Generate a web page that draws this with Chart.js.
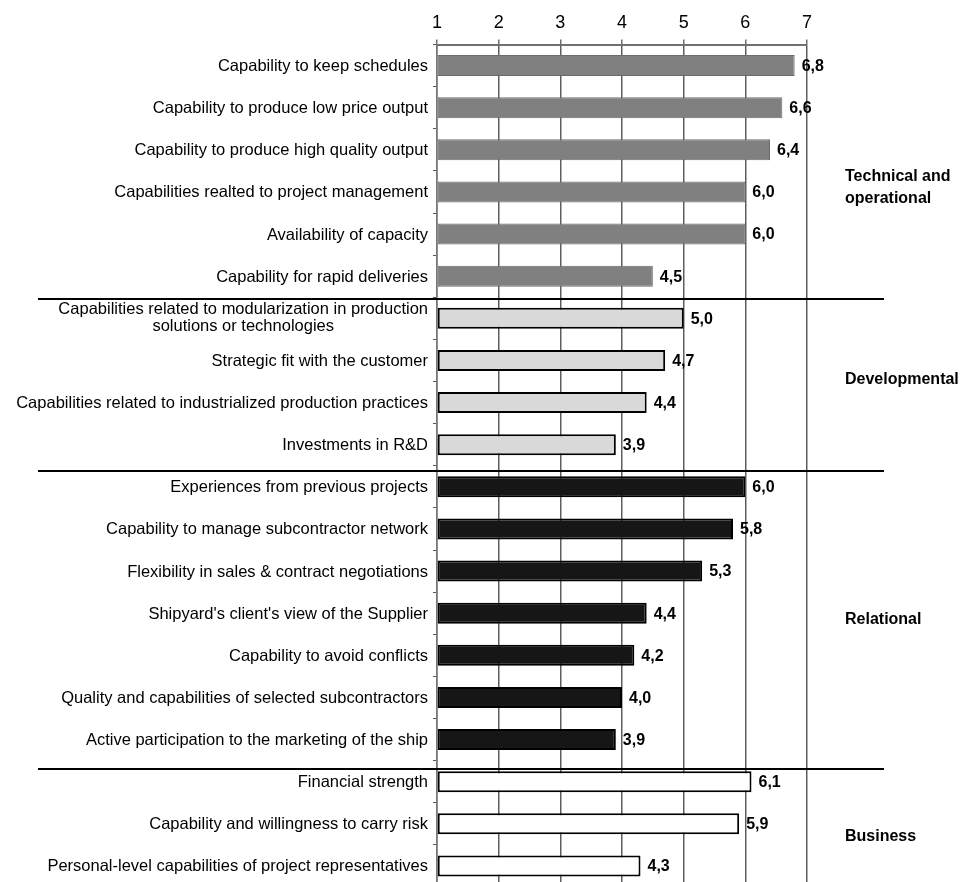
<!DOCTYPE html>
<html>
<head>
<meta charset="utf-8">
<script src="https://cdn.jsdelivr.net/npm/chart.js@4.4.1/dist/chart.umd.min.js"></script>
<style>
  html, body { margin: 0; padding: 0; background: #fff; overflow: hidden; }
  #wrap { position: relative; width: 960px; height: 887px; }
</style>
</head>
<body>
<div id="wrap"><canvas id="chart"></canvas></div>
<script>
// Supplier capability ratings (scale 1-7), grouped by capability type
const categories = [
  'Capability to keep schedules',
  'Capability to produce low price output',
  'Capability to produce high quality output',
  'Capabilities realted to project management',
  'Availability of capacity',
  'Capability for rapid deliveries',
  ['Capabilities related to modularization in production', 'solutions or technologies'],
  'Strategic fit with the customer',
  'Capabilities related to industrialized production practices',
  'Investments in R&D',
  'Experiences from previous projects',
  'Capability to manage subcontractor network',
  'Flexibility in sales & contract negotiations',
  "Shipyard's client's view of the Supplier",
  'Capability to avoid conflicts',
  'Quality and capabilities of selected subcontractors',
  'Active participation to the marketing of the ship',
  'Financial strength',
  'Capability and willingness to carry risk',
  'Personal-level capabilities of project representatives'
];
const values = [6.8, 6.6, 6.4, 6.0, 6.0, 4.5, 5.0, 4.7, 4.4, 3.9, 6.0, 5.8, 5.3, 4.4, 4.2, 4.0, 3.9, 6.1, 5.9, 4.3];
const groupOf = [0, 0, 0, 0, 0, 0, 1, 1, 1, 1, 2, 2, 2, 2, 2, 2, 2, 3, 3, 3];
const groupNames = [['Technical and', 'operational'], ['Developmental'], ['Relational'], ['Business']];
const xTicks = [1, 2, 3, 4, 5, 6, 7];

// Styling per group
const groupFill = ['#808080', '#d9d9d9', '#161616', '#ffffff'];
const groupBorder = ['#6b6b6b', '#000000', '#000000', '#000000'];
const groupBorderWidth = [1, 2, 2, 2];

// Placement of group names and dividing lines, in category-index units
const groupLabelAt = [2.9, 7.45, 13.15, 18.3];
const dividerAt = [5.54, 9.62, 16.7];

const FONT = '"Liberation Sans", Arial, sans-serif';

const decorations = {
  id: 'decorations',
  afterDatasetsDraw(chart) {
    const ctx = chart.ctx;
    const y = chart.scales.y;
    const x = chart.scales.x;
    const area = chart.chartArea;
    ctx.save();

    // category labels
    ctx.fillStyle = '#000';
    ctx.font = '16.5px ' + FONT;
    ctx.textBaseline = 'middle';
    const labelRight = area.left - 9;
    categories.forEach((lab, i) => {
      const py = y.getPixelForValue(i);
      if (Array.isArray(lab)) {
        const lh = 17;
        const w = Math.max(...lab.map(s => ctx.measureText(s).width));
        const cx = labelRight - w / 2;
        ctx.textAlign = 'center';
        lab.forEach((s, k) => {
          ctx.fillText(s, cx, py + (k - (lab.length - 1) / 2) * lh);
        });
      } else {
        ctx.textAlign = 'right';
        ctx.fillText(lab, labelRight, py + 1);
      }
    });

    // value labels at bar ends
    ctx.font = 'bold 16px ' + FONT;
    ctx.textAlign = 'left';
    const meta = chart.getDatasetMeta(0);
    meta.data.forEach((bar, i) => {
      const txt = values[i].toFixed(1).replace('.', ',');
      ctx.fillText(txt, bar.x + 7, bar.y + 1);
    });

    // group names on the right
    ctx.font = 'bold 16px ' + FONT;
    groupNames.forEach((lines, g) => {
      const py = y.getPixelForValue(groupLabelAt[g]);
      lines.forEach((s, k) => {
        ctx.fillText(s, area.right + 38, py + (k - (lines.length - 1) / 2) * 22);
      });
    });

    // dividing lines between groups
    ctx.strokeStyle = '#000';
    ctx.lineWidth = 2;
    dividerAt.forEach(v => {
      const py = Math.round(y.getPixelForValue(v)) + 0.0;
      ctx.beginPath();
      ctx.moveTo(38, py);
      ctx.lineTo(area.right + 77, py);
      ctx.stroke();
    });
    ctx.restore();
  }
};

new Chart(document.getElementById('chart'), {
  type: 'bar',
  data: {
    labels: categories.map(c => Array.isArray(c) ? c.join(' ') : c),
    datasets: [{
      data: values,
      base: 1,
      backgroundColor: groupOf.map(g => groupFill[g]),
      borderColor: groupOf.map(g => groupBorder[g]),
      borderWidth: groupOf.map(g => groupBorderWidth[g]),
      borderSkipped: false,
      categoryPercentage: 1,
      barPercentage: 0.5
    }]
  },
  options: {
    indexAxis: 'y',
    responsive: true,
    maintainAspectRatio: false,
    animation: false,
    layout: { padding: { left: 0, right: 153, top: 0, bottom: 0 } },
    plugins: { legend: { display: false }, tooltip: { enabled: false } },
    scales: {
      x: {
        position: 'top',
        min: 1,
        max: 7,
        afterBuildTicks(scale) { scale.ticks = xTicks.map(v => ({ value: v })); },
        afterFit(scale) { scale.height = 44.5; },
        ticks: { color: '#000', font: { family: FONT, size: 18 }, padding: 6 },
        grid: { color: '#5e5e5e', lineWidth: 1.5, drawTicks: true, tickLength: 5, tickColor: '#6e6e6e' },
        border: { display: true, color: '#707070', width: 2 }
      },
      y: {
        type: 'category',
        afterFit(scale) { scale.width = 437; },
        ticks: { display: false },
        grid: { drawOnChartArea: false, drawTicks: true, tickLength: 4, offset: true, color: '#555', lineWidth: 1 },
        border: { display: true, color: '#777', width: 1.5 }
      }
    }
  },
  plugins: [decorations]
});
</script>
</body>
</html>
